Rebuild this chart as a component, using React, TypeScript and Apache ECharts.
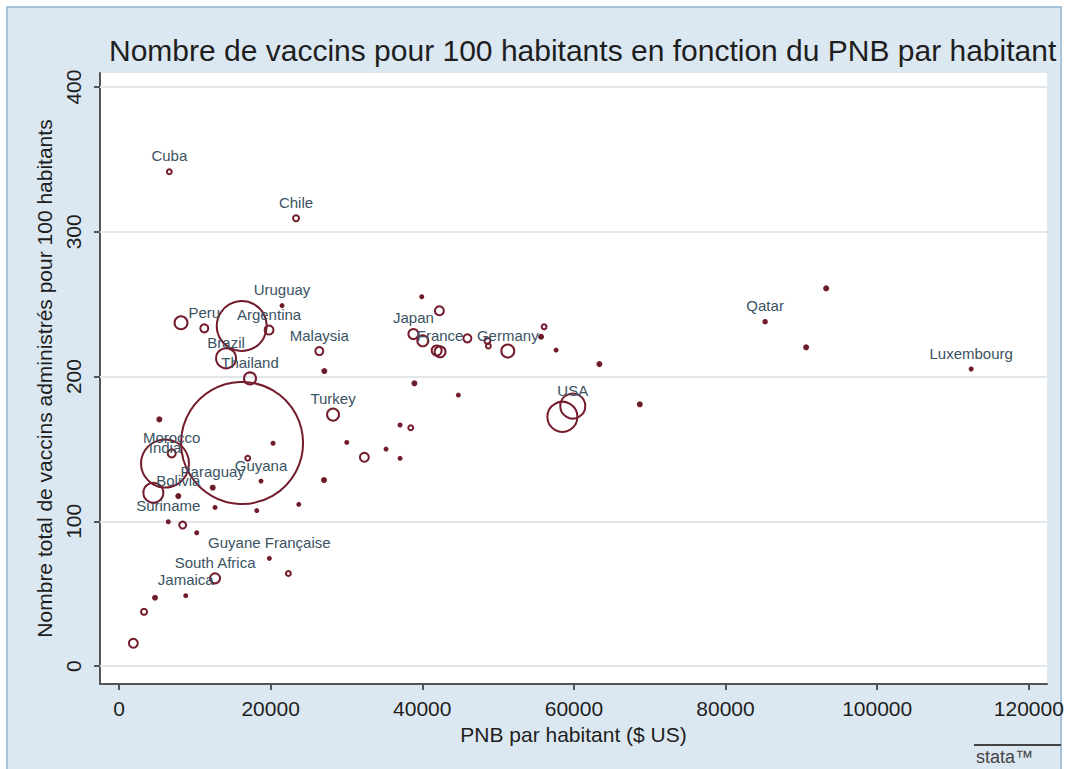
import React, { useEffect, useRef } from "react";
import * as echarts from "echarts";

// PNB par habitant ($ US)
const pnb = [
  6640, 23350, 21500, 8180, 11250, 16190, 19790, 14120, 17280, 26420,
  27080, 28230, 39930, 42260, 38830, 40070, 42350, 41900, 45950, 48590,
  48720, 51280, 56070, 55670, 57650, 63360, 38960, 44760, 58480, 59850,
  68690, 37070, 38480, 35220, 37070, 30040, 32360, 16230, 20320, 18730,
  27040, 23710, 18170, 5320, 6950, 6070, 16980, 12360, 7820, 4530,
  6500, 8400, 10250, 12670, 19830, 12670, 8800, 4750, 22340, 3300,
  1890, 85220, 93270, 90630, 112400,
];
// Nombre total de vaccins administrés pour 100 habitants
const vaccins = [
  341.5, 309.3, 249, 237.2, 233.3, 234.9, 232.1, 212.6, 198.7, 217.6,
  203.8, 173.7, 255.1, 245.5, 229.4, 224.7, 217.1, 218.0, 226.4, 224.7,
  221.1, 217.6, 234.4, 227.5, 218.3, 208.6, 195.3, 187.2, 172.2, 179.6,
  180.8, 166.5, 164.6, 149.9, 143.5, 154.5, 144.2, 154.1, 153.9, 127.8,
  128.5, 111.7, 107.4, 170.4, 146.9, 139.9, 143.5, 123.2, 117.4, 119.7,
  99.7, 97.4, 92.1, 109.6, 74.4, 60.6, 48.6, 47.2, 63.9, 37.5,
  15.7, 237.9, 260.9, 220.2, 205.2,
];
// Poids (taille des cercles)
const poids = [
  6, 9, 2, 42, 16, 625, 20, 100, 36, 16,
  4, 36, 1, 20, 25, 30, 30, 25, 16, 9,
  6, 42, 6, 4, 1, 4, 4, 2, 225, 156,
  4, 1.7, 6, 1.7, 2, 2, 20, 3721, 1, 1.7,
  4, 2, 1, 4, 16, 576, 6, 4, 4, 100,
  1, 12, 1.7, 1.7, 1.7, 25, 2, 4, 6, 9,
  20, 3, 4, 4, 1,
];
// Libellés des pays
const pays = [
  "Cuba", "Chile", "Uruguay", "", "Peru", "", "Argentina", "Brazil", "Thailand", "Malaysia",
  "", "Turkey", "", "", "Japan", "", "France", "", "", "",
  "", "Germany", "", "", "", "", "", "", "", "USA",
  "", "", "", "", "", "", "", "", "", "Guyana",
  "", "", "", "", "Morocco", "India", "", "Paraguay", "Bolivia", "",
  "Suriname", "", "", "", "Guyane Française", "South Africa", "Jamaica", "", "", "",
  "", "Qatar", "", "", "Luxembourg",
];
const xTicks = [0, 20000, 40000, 60000, 80000, 100000, 120000];
const yTicks = [0, 100, 200, 300, 400];

const FONT = "'Liberation Sans', Arial, sans-serif";
const MARKER = "#741c2c";

export default function App() {
  const ref = useRef<HTMLDivElement>(null);
  useEffect(() => {
    document.body.style.margin = "0";
    if (!ref.current) return;
    const chart = echarts.init(ref.current, null, { renderer: "svg" });
    const data = pnb.map((x, i) => [x, vaccins[i], poids[i], pays[i]]);
    chart.setOption({
      animation: false,
      backgroundColor: "#ffffff",
      textStyle: { fontFamily: FONT },
      title: {
        text: "Nombre de vaccins pour 100 habitants en fonction du PNB par habitant",
        left: 104,
        top: 30,
        textStyle: { fontFamily: FONT, fontSize: 30, fontWeight: "normal", color: "#1e1e1e" },
      },
      graphic: [
        {
          type: "rect",
          z: -10,
          shape: { x: 7, y: 7, width: 1054, height: 770 },
          style: { fill: "#dce8f1", stroke: "#a8c4da", lineWidth: 2 },
        },
        {
          type: "line",
          shape: { x1: 974, y1: 745, x2: 1061, y2: 745 },
          style: { stroke: "#444", lineWidth: 2 },
        },
        {
          type: "text",
          x: 976,
          y: 748,
          style: { text: "stata™", fontSize: 18, fontFamily: FONT, fill: "#444" },
        },
      ],
      grid: {
        left: 100,
        right: 21,
        top: 73,
        bottom: 85,
        show: true,
        backgroundColor: "#ffffff",
        borderWidth: 0,
      },
      xAxis: {
        type: "value",
        min: -2507,
        max: 122400,
        name: "PNB par habitant ($ US)",
        nameLocation: "middle",
        nameGap: 38,
        nameTextStyle: { fontFamily: FONT, fontSize: 21, color: "#1e1e1e" },
        axisLine: { show: true, onZero: false, lineStyle: { color: "#555", width: 2 } },
        axisTick: { show: true, customValues: xTicks, length: 6, lineStyle: { color: "#555", width: 2 } },
        axisLabel: {
          customValues: xTicks,
          formatter: (v: number) => String(v),
          fontFamily: FONT,
          fontSize: 21,
          color: "#1e1e1e",
          margin: 14,
        },
        splitLine: { show: false },
      },
      yAxis: {
        type: "value",
        min: -12.4,
        max: 409.7,
        name: "Nombre total de vaccins administrés pour 100 habitants",
        nameLocation: "middle",
        nameRotate: 90,
        nameGap: 40,
        nameTextStyle: { fontFamily: FONT, fontSize: 21, color: "#1e1e1e" },
        axisLine: { show: true, onZero: false, lineStyle: { color: "#555", width: 2 } },
        axisTick: { show: true, customValues: yTicks, length: 6, lineStyle: { color: "#555", width: 2 } },
        axisLabel: {
          customValues: yTicks,
          formatter: (v: number) => String(v),
          rotate: 90,
          fontFamily: FONT,
          fontSize: 21,
          color: "#1e1e1e",
          margin: 16,
        },
        splitLine: { show: false },
      },
      series: [
        {
          type: "scatter",
          data,
          symbol: "circle",
          symbolSize: (v: number[]) => Math.max(2 * Math.sqrt(v[2]), 3),
          itemStyle: {
            color: (p: any) => (p.value[2] <= 4 ? "#4a2329" : "rgba(0,0,0,0)"),
            borderColor: MARKER,
            borderWidth: 2,
            opacity: 1,
          },
          label: {
            show: true,
            position: "inside",
            offset: [0, -16],
            formatter: (p: any) => p.value[3],
            fontFamily: FONT,
            fontSize: 15,
            color: "#3a5262",
          },
          markLine: {
            silent: true,
            symbol: "none",
            label: { show: false },
            lineStyle: { color: "#e3e7ea", width: 2, type: "solid" },
            data: yTicks.map((t) => ({ yAxis: t })),
            z: 1,
          },
          z: 3,
        },
      ],
    });
    return () => chart.dispose();
  }, []);
  return <div ref={ref} style={{ width: 1068, height: 769 }} />;
}
